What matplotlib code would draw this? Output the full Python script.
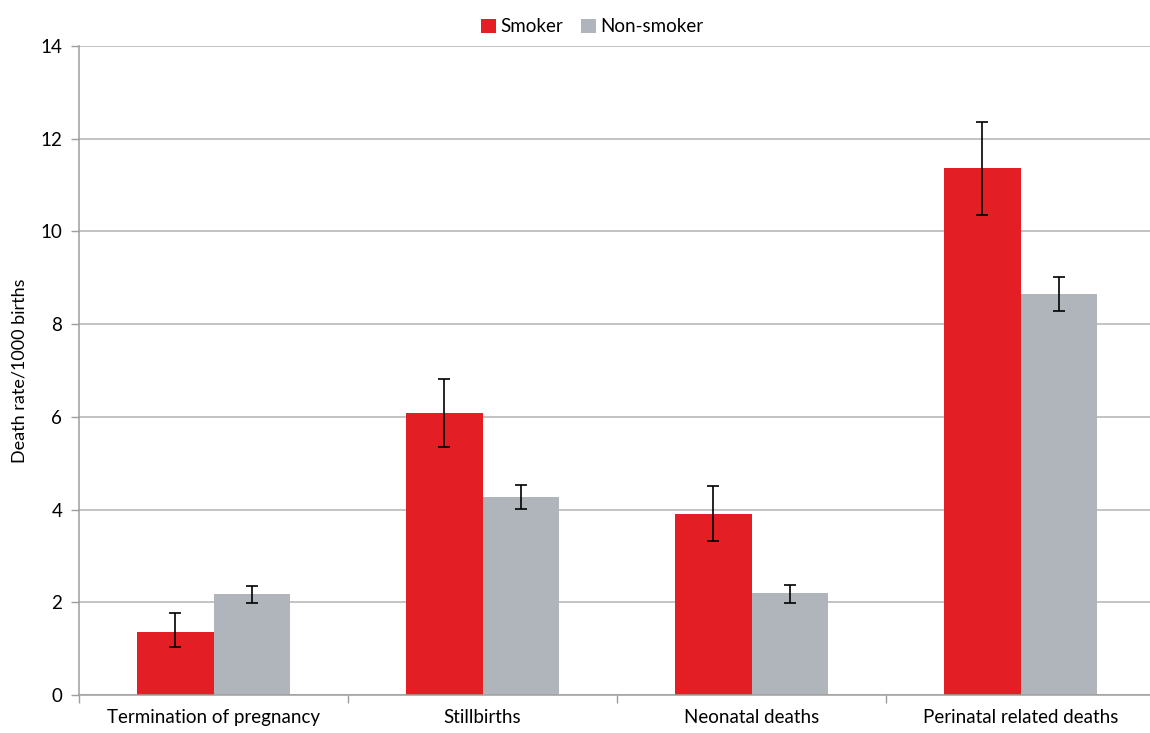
import matplotlib.pyplot as plt
import numpy as np

plt.rcParams['font.family'] = ['Lato', 'DejaVu Sans']

categories = ['Termination of pregnancy', 'Stillbirths', 'Neonatal deaths',
              'Perinatal related deaths']
smoker = [1.37, 6.09, 3.91, 11.36]
smoker_lo = [1.04, 5.34, 3.32, 10.35]
smoker_hi = [1.78, 6.82, 4.51, 12.37]
nonsmoker = [2.18, 4.27, 2.19, 8.64]
nonsmoker_lo = [1.99, 4.02, 1.99, 8.28]
nonsmoker_hi = [2.36, 4.53, 2.37, 9.01]

red = '#E31E24'
grey = '#AFB5BB'
axis_grey = '#9E9E9E'

fig = plt.figure(figsize=(11.5, 7.33), dpi=100)
ax = fig.add_axes([0.0687, 0.0518, 0.9357, 0.8855])

x = np.arange(len(categories))
w = 0.286

s = np.array(smoker)
n = np.array(nonsmoker)
s_err = [s - np.array(smoker_lo), np.array(smoker_hi) - s]
n_err = [n - np.array(nonsmoker_lo), np.array(nonsmoker_hi) - n]

ax.bar(x - w / 2, s, w, color=red, label='Smoker', zorder=2)
ax.bar(x + w / 2, n, w, color=grey, label='Non-smoker', zorder=2)
ax.errorbar(x - w / 2, s, yerr=s_err, fmt='none', ecolor='black',
            elinewidth=1.2, capsize=4, capthick=1.2, zorder=3)
ax.errorbar(x + w / 2, n, yerr=n_err, fmt='none', ecolor='black',
            elinewidth=1.2, capsize=4, capthick=1.2, zorder=3)

ax.set_xlim(-0.5, len(categories) - 0.5)
ax.set_ylim(0, 14)
ax.set_yticks(range(0, 15, 2))
ax.yaxis.grid(True, color='#B3B3B3', linewidth=1.1, zorder=0)
ax.set_axisbelow(True)

# category labels centred, separators as ticks between groups
ax.set_xticks(x)
ax.set_xticklabels(categories, fontsize=13.5)
ax.tick_params(axis='x', length=0, pad=10)
ax.set_xticks(np.arange(-0.5, len(categories)), minor=True)
ax.tick_params(axis='x', which='minor', length=6, color=axis_grey, width=1)
ax.tick_params(axis='y', length=6, color=axis_grey, width=1,
               labelsize=13.5, pad=6)

for side in ['top', 'right']:
    ax.spines[side].set_visible(False)
for side in ['left', 'bottom']:
    ax.spines[side].set_color(axis_grey)
    ax.spines[side].set_linewidth(1.1)

ax.set_ylabel('Death rate/1000 births', fontsize=13, labelpad=9)

leg = fig.legend(loc='upper center', bbox_to_anchor=(0.515, 0.998), ncol=2,
                 frameon=False, fontsize=13.5, handlelength=0.8,
                 handleheight=0.8, handletextpad=0.2, columnspacing=1.0)

fig.savefig('out.png', dpi=100)
